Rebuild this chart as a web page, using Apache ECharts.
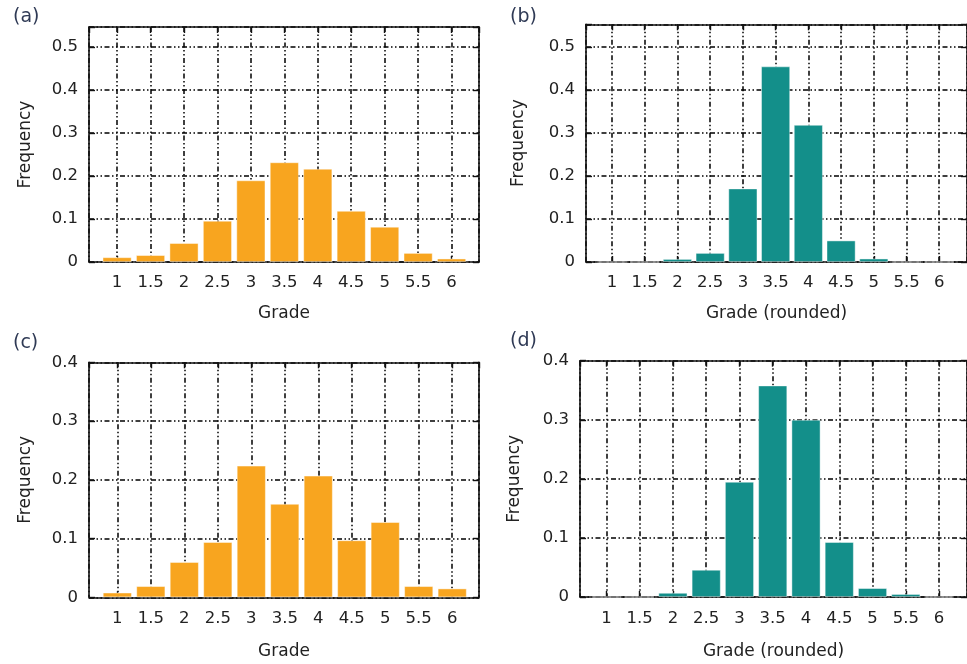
<!DOCTYPE html>
<html>
<head>
<meta charset="utf-8">
<script src="https://cdn.jsdelivr.net/npm/echarts@6/dist/echarts.min.js"></script>
<style>html,body{margin:0;padding:0;background:#fff}#chart{width:967px;height:664px}</style>
</head>
<body>
<div id="chart"></div>
<script>
const grades = [1, 1.5, 2, 2.5, 3, 3.5, 4, 4.5, 5, 5.5, 6];
const freqA = [0.011, 0.016, 0.044, 0.096, 0.190, 0.232, 0.217, 0.119, 0.082, 0.021, 0.008];
const freqB = [0, 0, 0.007, 0.021, 0.171, 0.455, 0.319, 0.050, 0.008, 0, 0];
const freqC = [0.008, 0.019, 0.060, 0.094, 0.224, 0.159, 0.207, 0.097, 0.128, 0.019, 0.015];
const freqD = [0, 0, 0.007, 0.046, 0.195, 0.358, 0.300, 0.093, 0.015, 0.005, 0];
const panelLabels = ['(a)', '(b)', '(c)', '(d)'];
const xNames = ['Grade', 'Grade (rounded)', 'Grade', 'Grade (rounded)'];
const yName = 'Frequency';

const ORANGE = '#F8A51F', TEAL = '#138F8A';
const FONT = 'DejaVu Sans';
const panels = [
  {data: freqA, color: ORANGE, left: 89, top: 27, width: 390, height: 235, xmin: 0.58, xmax: 6.41, ymax: 0.547, tx: 8, ty: 3, nameGapY: 55, nameGapX: 43, labelMargin: 12},
  {data: freqB, color: TEAL, left: 586, top: 24.3, width: 390, height: 237.7, xmin: 0.603, xmax: 6.424, ymax: 0.553, tx: 505, ty: 3, nameGapY: 59, nameGapX: 43, labelMargin: 12},
  {data: freqC, color: ORANGE, left: 89, top: 362.3, width: 390, height: 235, xmin: 0.577, xmax: 6.40, ymax: 0.4, tx: 8, ty: 329, nameGapY: 55, nameGapX: 46, labelMargin: 13},
  {data: freqD, color: TEAL, left: 580, top: 360.7, width: 390, height: 236.3, xmin: 0.603, xmax: 6.42, ymax: 0.4, tx: 505, ty: 327, nameGapY: 57, nameGapX: 46, labelMargin: 13}
];

const dash = [5, 2.5, 1.5, 2.5, 1.5, 2.5];
function xFmt(v) { const r = Math.round(v * 2) / 2; return Math.abs(v - r) < 1e-6 ? String(r) : ''; }
function yFmt(v) { const r = Math.round(v * 10) / 10; return Math.abs(v - r) < 1e-6 ? String(r) : ''; }

const grid = [], xAxis = [], yAxis = [], series = [], title = [];
panels.forEach((p, i) => {
  grid.push({left: p.left, top: p.top, width: p.width, height: p.height, containLabel: false});
  title.push({text: panelLabels[i], left: p.tx, top: p.ty, textStyle: {fontFamily: FONT, fontSize: 19, fontWeight: 'normal', color: '#2f3a55'}});
  const xBase = {
    type: 'value', gridIndex: i, min: p.xmin, max: p.xmax, splitNumber: 11,
    minInterval: 0.5, maxInterval: 0.5
  };
  xAxis.push(Object.assign({}, xBase, {
    position: 'bottom',
    name: xNames[i], nameLocation: 'middle', nameGap: p.nameGapX,
    nameTextStyle: {fontFamily: FONT, fontSize: 17, color: '#222'},
    axisLine: {show: true, onZero: false, lineStyle: {color: '#111', width: 1.6}},
    axisTick: {show: true, inside: true, length: 6, lineStyle: {color: '#111', width: 1.4}},
    axisLabel: {formatter: xFmt, fontFamily: FONT, fontSize: 16.5, color: '#222', margin: p.labelMargin, showMinLabel: false, showMaxLabel: false},
    splitLine: {show: true, lineStyle: {color: '#000', width: 1.5, type: dash}}
  }));
  xAxis.push(Object.assign({}, xBase, {
    position: 'top',
    axisLine: {show: true, onZero: false, lineStyle: {color: '#111', width: 1.6}},
    axisTick: {show: true, inside: true, length: 6, lineStyle: {color: '#111', width: 1.4}},
    axisLabel: {show: false}, splitLine: {show: false}
  }));
  const yBase = {type: 'value', gridIndex: i, min: 0, max: p.ymax, interval: 0.1};
  yAxis.push(Object.assign({}, yBase, {
    position: 'left',
    name: yName, nameLocation: 'middle', nameGap: p.nameGapY, nameRotate: 90,
    nameTextStyle: {fontFamily: FONT, fontSize: 17, color: '#222'},
    axisLine: {show: true, onZero: false, lineStyle: {color: '#111', width: 1.6}},
    axisTick: {show: true, inside: true, length: 6, lineStyle: {color: '#111', width: 1.4}},
    axisLabel: {formatter: yFmt, fontFamily: FONT, fontSize: 16.5, color: '#222', margin: 11},
    splitLine: {show: true, lineStyle: {color: '#000', width: 1.5, type: dash}}
  }));
  yAxis.push(Object.assign({}, yBase, {
    position: 'right',
    axisLine: {show: true, onZero: false, lineStyle: {color: '#111', width: 1.6}},
    axisTick: {show: true, inside: true, length: 6, lineStyle: {color: '#111', width: 1.4}},
    axisLabel: {show: false}, splitLine: {show: false}
  }));
  series.push({
    type: 'bar', xAxisIndex: 2 * i, yAxisIndex: 2 * i,
    data: grades.map((g, k) => [g, p.data[k]]),
    barWidth: 29,
    itemStyle: {color: p.color, borderColor: 'rgba(255,255,255,0.55)', borderWidth: 0.8},
    emphasis: {disabled: true},
    animation: false
  });
});

const chart = echarts.init(document.getElementById('chart'), null, {renderer: 'canvas'});
chart.setOption({animation: false, title, grid, xAxis, yAxis, series});
</script>
</body>
</html>
